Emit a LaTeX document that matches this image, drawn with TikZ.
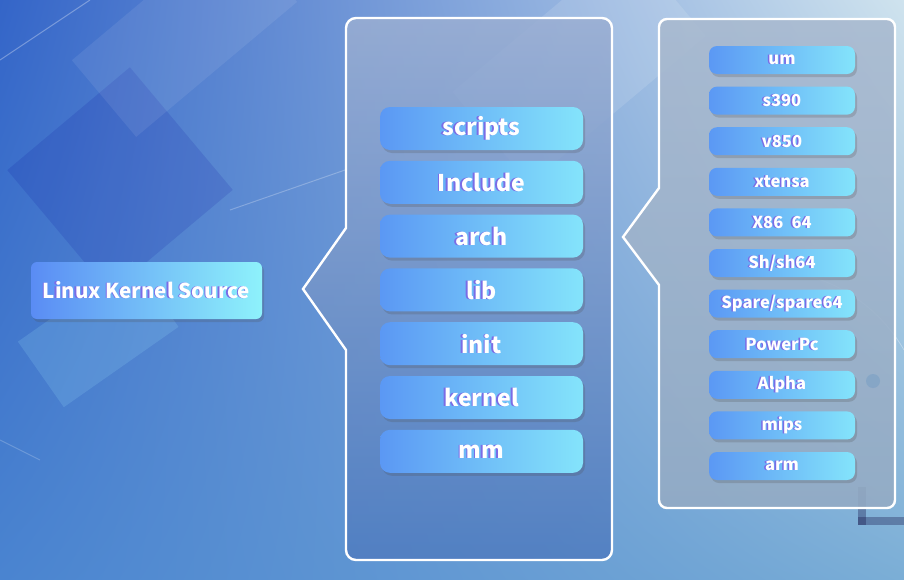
\documentclass[tikz,border=0pt]{standalone}
\usepackage{fontspec}
\setmainfont{Noto Sans CJK SC}
\usetikzlibrary{shadows,shadings}
\definecolor{bgUL}{HTML}{3465C8}
\definecolor{bgUR}{HTML}{CFE3EE}
\definecolor{bgLL}{HTML}{4A84D0}
\definecolor{bgLR}{HTML}{7BAED6}
\definecolor{boxL}{HTML}{5B98F4}
\definecolor{boxR}{HTML}{84E4FB}
\definecolor{srcL}{HTML}{5A8CF4}
\definecolor{srcR}{HTML}{8EF2FB}
\definecolor{ghostc}{HTML}{7A6CE6}
\definecolor{midTop}{HTML}{9AAED2}
\definecolor{midBot}{HTML}{4F7CC0}
\definecolor{rgtTop}{HTML}{A8B9CF}
\definecolor{rgtBot}{HTML}{94ABC4}
\definecolor{dotc}{HTML}{7FA2C6}
\newcommand\ghosttext[1]{\rlap{\kern-1.6pt\textcolor{ghostc}{#1}}#1}
\tikzset{
  box/.style={draw=none, left color=boxL, right color=boxR, text=white,
    font=\bfseries, inner sep=0pt,
    drop shadow={shadow xshift=2pt, shadow yshift=-3pt, opacity=0.22, fill=black!70}},
  midbox/.style={box, minimum width=203pt, minimum height=43pt, rounded corners=10pt, font=\bfseries\fontsize{23}{26}\selectfont},
  rgtbox/.style={box, minimum width=146pt, minimum height=28pt, rounded corners=8pt, font=\bfseries\fontsize{16.5}{19}\selectfont},
  srcbox/.style={box, left color=srcL, right color=srcR, minimum width=231pt, minimum height=57pt, rounded corners=6pt, font=\bfseries\fontsize{20.5}{24}\selectfont},
  panelline/.style={draw=white, line width=2.4pt, line join=miter},
}
\begin{document}
\begin{tikzpicture}[x=1pt,y=-1pt]
\useasboundingbox (0,0) rectangle (904,579);
% background
\shade[upper left=bgUL, upper right=bgUR, lower left=bgLL, lower right=bgLR] (0,0) rectangle (904,579);
\fill[blue!60!black, opacity=0.12, rotate around={40:(120,180)}] (40,100) rectangle (200,260);
\fill[white, opacity=0.08, rotate around={40:(150,60)}] (90,10) rectangle (300,110);
\fill[cyan!40, opacity=0.18, rotate around={35:(90,340)}] (30,300) rectangle (170,380);
\fill[white, opacity=0.12, rotate around={40:(560,80)}] (470,20) rectangle (700,140);
\draw[white, opacity=0.3, line width=1pt] (90,0) -- (0,60);
\draw[white, opacity=0.25, line width=1pt] (230,210) -- (345,170);
\draw[white, opacity=0.2, line width=1pt] (0,440) -- (40,460);
\draw[white, opacity=0.3, line width=0.8pt] (904,350) arc[start angle=-30, end angle=-80, radius=160];
\fill[gray!50!blue!40!black, opacity=0.35] (858,487) rectangle (866,525);
\fill[gray!50!blue!40!black, opacity=0.35] (858,517) rectangle (904,525);
% middle panel
\shade[top color=midTop, bottom color=midBot, opacity=0.85]
  (303,289) -- (346,350) {[rounded corners=10pt] -- (346,560) -- (612,560) -- (612,18) -- (346,18)} -- (346,228) -- cycle;
\draw[panelline]
  (303,289) -- (346,350) {[rounded corners=10pt] -- (346,560) -- (612,560) -- (612,18) -- (346,18)} -- (346,228) -- cycle;
% right panel
\shade[top color=rgtTop, bottom color=rgtBot, opacity=0.88]
  (623,237) -- (659,285) {[rounded corners=8pt] -- (659,508) -- (895,508) -- (895,19) -- (659,19)} -- (659,188) -- cycle;
\draw[panelline]
  (623,237) -- (659,285) {[rounded corners=8pt] -- (659,508) -- (895,508) -- (895,19) -- (659,19)} -- (659,188) -- cycle;
\fill[dotc, opacity=0.7] (873,381) circle (7);
% source
\node[srcbox] (src) at (146.5,290.5) {\ghosttext{Linux Kernel Source}};
% middle boxes
\node[midbox] (scripts) at (481.5,128.5) {\ghosttext{scripts}};
\node[midbox] (include) at (481.5,182.3) {\ghosttext{Include}};
\node[midbox] (arch)    at (481.5,236.1) {\ghosttext{arch}};
\node[midbox] (lib)     at (481.5,289.9) {\ghosttext{lib}};
\node[midbox] (init)    at (481.5,343.7) {\ghosttext{init}};
\node[midbox] (kernel)  at (481.5,397.5) {\ghosttext{kernel}};
\node[midbox] (mm)      at (481.5,451.3) {\ghosttext{mm}};
% right boxes
\node[rgtbox] (um)     at (782,60)    {\ghosttext{um}};
\node[rgtbox] (s390)   at (782,100.6) {\ghosttext{s390}};
\node[rgtbox] (v850)   at (782,141.2) {\ghosttext{v850}};
\node[rgtbox] (xtensa) at (782,181.8) {\ghosttext{xtensa}};
\node[rgtbox] (x86)    at (782,222.4) {\ghosttext{X86\enspace 64}};
\node[rgtbox] (sh)     at (782,263)   {\ghosttext{Sh/sh64}};
\node[rgtbox] (spare)  at (782,303.6) {\ghosttext{Spare/spare64}};
\node[rgtbox] (ppc)    at (782,344.2) {\ghosttext{PowerPc}};
\node[rgtbox] (alpha)  at (782,384.8) {\ghosttext{Alpha}};
\node[rgtbox] (mips)   at (782,425.4) {\ghosttext{mips}};
\node[rgtbox] (arm)    at (782,466)   {\ghosttext{arm}};
\end{tikzpicture}
\end{document}
